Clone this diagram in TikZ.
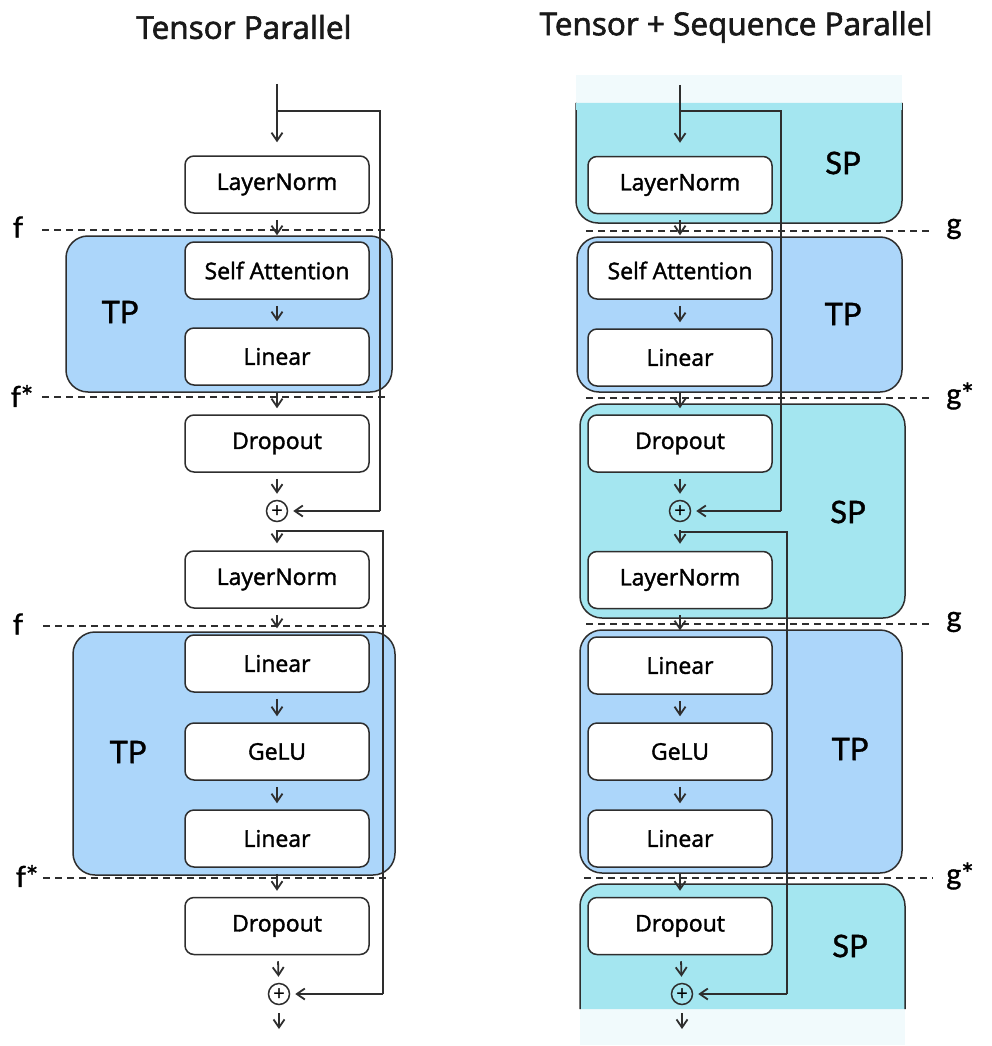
\documentclass[tikz,border=0pt]{standalone}
\usepackage{fontspec}
\setmainfont{Open Sans}
\newfontfamily\boxfont[FakeBold=1.6]{Open Sans}
\newfontfamily\ttlfont[FakeBold=2]{Open Sans}
\newfontfamily\labfont[FakeBold=1.2]{Lato}
\usetikzlibrary{arrows.meta}
\definecolor{tpblue}{HTML}{ACD6FA}
\definecolor{spcyan}{HTML}{A4E6F0}
\definecolor{fade}{HTML}{F1FAFC}
\definecolor{ink}{HTML}{2E2E2E}
\tikzset{
  blk/.style={draw=ink, fill=white, rounded corners=9pt, line width=1.5pt,
    minimum width=184pt, minimum height=57pt, inner sep=0pt, font=\boxfont\fontsize{23}{23}\selectfont},
  region/.style={draw=ink, line width=1.5pt, rounded corners=22pt},
  arr/.style={draw=ink, line width=1.8pt, -{Straight Barb[length=8pt,width=11pt,line width=1.8pt]}, shorten <=6pt, shorten >=6pt},
  skipl/.style={draw=ink, line width=1.8pt},
  cut/.style={draw=ink, line width=1.5pt, dash pattern=on 7pt off 5pt},
  plusn/.style={draw=ink, circle, line width=1.5pt, minimum size=21pt, inner sep=0pt, font=\labfont\fontsize{19}{19}\selectfont},
  reg/.style={font=\labfont\fontsize{31}{31}\selectfont, text=black},
  cutlab/.style={font=\labfont\fontsize{29}{29}\selectfont, text=black},
  ttl/.style={font=\ttlfont\fontsize{31.5}{31.5}\selectfont, text=black!90}
}
\begin{document}
\begin{tikzpicture}[x=1pt,y=-1pt]
\useasboundingbox (0,0) rectangle (992,1046);
\fill[white] (0,0) rectangle (992,1046);
% titles
\node[ttl] (t1) at (244,27) {Tensor Parallel};
\node[ttl] (t2) at (736,27) {Tensor + Sequence Parallel};

% ---------- left column regions ----------
\fill[tpblue] (66,236) [rounded corners=22pt] rectangle (392,392);
\draw[region] (66,236) rectangle (392,392);
\fill[tpblue] (73,632) [rounded corners=22pt] rectangle (395,875);
\draw[region] (73,632) rectangle (395,875);
\node[reg] (ltp1) at (120,312) {TP};
\node[reg] (ltp2) at (128,752) {TP};

% ---------- right column regions ----------
\fill[fade] (576,75) rectangle (902,103);
\filldraw[fill=spcyan, draw=ink, line width=1.5pt] (576,103) [rounded corners=22pt] -- (576,223) -- (902,223) [sharp corners] -- (902,103);
\fill[spcyan] (576,103) rectangle (902,110);
\filldraw[region, fill=tpblue] (577,237) rectangle (902,392);
\filldraw[region, fill=spcyan] (580,404) rectangle (905,618);
\filldraw[region, fill=tpblue] (580,630) rectangle (902,873);
\fill[fade] (580,1009) rectangle (905,1045);
\filldraw[fill=spcyan, draw=ink, line width=1.5pt] (580,1009) [rounded corners=22pt] -- (580,884) -- (905,884) [sharp corners] -- (905,1009);
\node[reg] (rsp1) at (843,163) {SP};
\node[reg] (rtp1) at (843,314) {TP};
\node[reg] (rsp2) at (848,512) {SP};
\node[reg] (rtp2) at (850,749) {TP};
\node[reg] (rsp3) at (850,946) {SP};

% ---------- left column blocks ----------
\node[blk] (aln1) at (277,184.5) {LayerNorm};
\node[blk] (asa)  at (277,270.5) {Self Attention};
\node[blk] (ali1) at (277,356.5) {Linear};
\node[blk] (ado1) at (277,443.5) {Dropout};
\node[plusn] (apl1) at (277,511) {+};
\node[blk] (aln2) at (277,579.5) {LayerNorm};
\node[blk] (ali2) at (277,663.5) {Linear};
\node[blk] (age)  at (277,751.5) {GeLU};
\node[blk] (ali3) at (277,838.5) {Linear};
\node[blk] (ado2) at (277,926) {Dropout};
\node[plusn] (apl2) at (279,994) {+};

% ---------- right column blocks ----------
\node[blk] (bln1) at (680,185) {LayerNorm};
\node[blk] (bsa)  at (680,270.5) {Self Attention};
\node[blk] (bli1) at (680,357.5) {Linear};
\node[blk] (bdo1) at (680,443.5) {Dropout};
\node[plusn] (bpl1) at (680,511) {+};
\node[blk] (bln2) at (680,580) {LayerNorm};
\node[blk] (bli2) at (680,665.5) {Linear};
\node[blk] (bge)  at (680,751.5) {GeLU};
\node[blk] (bli3) at (680,838.5) {Linear};
\node[blk] (bdo2) at (680,926) {Dropout};
\node[plusn] (bpl2) at (682,994) {+};

% ---------- dashed cut lines ----------
\coordinate (af1a) at (42,230); \coordinate (af1b) at (387,230);
\coordinate (af2a) at (42,397); \coordinate (af2b) at (387,397);
\coordinate (af3a) at (43,626); \coordinate (af3b) at (390,626);
\coordinate (af4a) at (43,878); \coordinate (af4b) at (390,878);
\draw[cut] (af1a) -- (af1b);
\draw[cut] (af2a) -- (af2b);
\draw[cut] (af3a) -- (af3b);
\draw[cut] (af4a) -- (af4b);
\node[cutlab] (lf1) at (18,227) {f};
\node[cutlab] (lf2) at (22,396) {f*};
\node[cutlab] (lf3) at (18,624) {f};
\node[cutlab] (lf4) at (27,876) {f*};

\coordinate (bg1a) at (586,231); \coordinate (bg1b) at (933,231);
\coordinate (bg2a) at (586,398); \coordinate (bg2b) at (933,398);
\coordinate (bg3a) at (586,624); \coordinate (bg3b) at (933,624);
\coordinate (bg4a) at (584,878); \coordinate (bg4b) at (933,878);
\draw[cut] (bg1a) -- (bg1b);
\draw[cut] (bg2a) -- (bg2b);
\draw[cut] (bg3a) -- (bg3b);
\draw[cut] (bg4a) -- (bg4b);
\node[cutlab] (lg1) at (954,229) {g};
\node[cutlab] (lg2) at (960,396) {g*};
\node[cutlab] (lg3) at (954,622) {g};
\node[cutlab] (lg4) at (960,876) {g*};

% ---------- left arrows ----------
\coordinate (ain) at (277,84);
\coordinate (aj1) at (277,111);
\coordinate (ak1) at (380,111);
\coordinate (ak1b) at (380,511);
\draw[arr, shorten <=0pt, shorten >=13pt] (ain) -- (aln1);
\draw[skipl] (aj1) -- (ak1) -- (ak1b);
\draw[arr, shorten <=0pt, shorten >=5pt] (ak1b) -- (apl1);
\draw[arr] (aln1) -- (asa);
\draw[arr] (asa) -- (ali1);
\draw[arr] (ali1) -- (ado1);
\draw[arr, shorten >=6pt] (ado1) -- (apl1);
\draw[arr, shorten <=8pt, shorten >=7pt] (apl1) -- (aln2);
\coordinate (aj2) at (277,531);
\coordinate (ak2) at (383,531);
\coordinate (ak2b) at (383,994);
\draw[skipl] (aj2) -- (ak2) -- (ak2b);
\draw[arr, shorten <=0pt, shorten >=5pt] (ak2b) -- (apl2);
\draw[arr] (aln2) -- (ali2);
\draw[arr] (ali2) -- (age);
\draw[arr] (age) -- (ali3);
\draw[arr] (ali3) -- (ado2);
\draw[arr, shorten >=6pt] (ado2) -- (apl2);
\coordinate (aout) at (279,1029);
\draw[arr, shorten <=8pt, shorten >=0pt] (apl2) -- (aout);

% ---------- right arrows ----------
\coordinate (bin) at (680,85);
\coordinate (bj1) at (680,111);
\coordinate (bk1) at (781,111);
\coordinate (bk1b) at (781,511);
\draw[arr, shorten <=0pt, shorten >=13pt] (bin) -- (bln1);
\draw[skipl] (bj1) -- (bk1) -- (bk1b);
\draw[arr, shorten <=0pt, shorten >=5pt] (bk1b) -- (bpl1);
\draw[arr] (bln1) -- (bsa);
\draw[arr] (bsa) -- (bli1);
\draw[arr] (bli1) -- (bdo1);
\draw[arr, shorten >=6pt] (bdo1) -- (bpl1);
\draw[arr, shorten <=8pt, shorten >=7pt] (bpl1) -- (bln2);
\coordinate (bj2) at (680,532);
\coordinate (bk2) at (787,532);
\coordinate (bk2b) at (787,994);
\draw[skipl] (bj2) -- (bk2) -- (bk2b);
\draw[arr, shorten <=0pt, shorten >=5pt] (bk2b) -- (bpl2);
\draw[arr] (bln2) -- (bli2);
\draw[arr] (bli2) -- (bge);
\draw[arr] (bge) -- (bli3);
\draw[arr] (bli3) -- (bdo2);
\draw[arr, shorten >=6pt] (bdo2) -- (bpl2);
\coordinate (bout) at (682,1029);
\draw[arr, shorten <=8pt, shorten >=0pt] (bpl2) -- (bout);
\end{tikzpicture}
\end{document}
